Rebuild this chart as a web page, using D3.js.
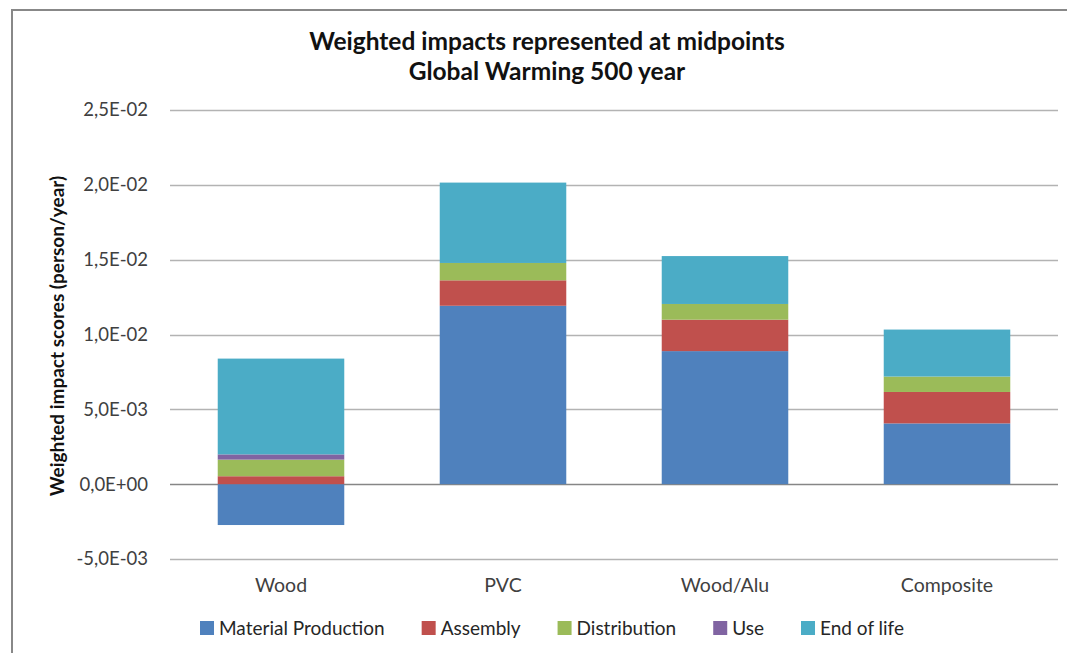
<!DOCTYPE html>
<html lang="en">
<head>
    <meta charset="UTF-8">
    <title>Weighted impacts - Global Warming 500 year</title>
    <script src="https://cdn.jsdelivr.net/npm/d3@7"></script>
    <style>
        body { margin: 0; background: #fff; }
        svg { font-family: Lato, "Open Sans", sans-serif; }
        .tick text { fill: #404040; }
    </style>
</head>
<body>
    <svg width="1067" height="653"></svg>

    <script>
        // Data
        var categories = ["Wood", "PVC", "Wood/Alu", "Composite"];
        var stages = ["Material Production", "Assembly", "Distribution", "Use", "End of life"];
        var materialProduction = [-0.00273, 0.01192, 0.00889, 0.00406];
        var assembly = [0.00053, 0.0017, 0.0021, 0.0021];
        var distribution = [0.00111, 0.00116, 0.00105, 0.00103];
        var use = [0.00035, 0, 0, 0];
        var endOfLife = [0.0064, 0.00537, 0.0032, 0.00314];
        var yTicks = [-0.005, 0, 0.005, 0.01, 0.015, 0.02, 0.025];
        var colors = ["#4F81BD", "#C0504D", "#9BBB59", "#8064A2", "#4BACC6"];

        var series = [materialProduction, assembly, distribution, use, endOfLife];

        var svg = d3.select("svg");
        var margin = { left: 170, right: 1058, top: 110, bottom: 559 };

        // chart frame (left and top edges visible in the reference)
        svg.append("path")
            .attr("d", "M12,660 L12,10 L1090,10")
            .attr("fill", "none")
            .attr("stroke", "#888")
            .attr("stroke-width", 2);

        var x = d3.scaleBand()
            .domain(categories)
            .range([margin.left, margin.right])
            .paddingInner(0.43)
            .paddingOuter(0.215);

        var y = d3.scaleLinear()
            .domain([-0.005, 0.025])
            .range([margin.bottom, margin.top]);

        // gridlines
        svg.append("g")
            .selectAll("line")
            .data(yTicks)
            .enter().append("line")
            .attr("x1", margin.left)
            .attr("x2", margin.right)
            .attr("y1", function(d) { return Math.round(y(d)) + 0.5; })
            .attr("y2", function(d) { return Math.round(y(d)) + 0.5; })
            .attr("stroke", function(d) { return d === 0 ? "#868686" : "#b3b3b3"; })
            .attr("stroke-width", 1.3);

        // y axis labels, e.g. 2,5E-02
        var fmt = function(d) {
            return d3.format(".1e")(d)
                .replace("\u2212", "-")
                .replace(".", ",")
                .replace(/e([+-])(\d)$/, "E$10$2");
        };
        var yAxis = svg.append("g")
            .attr("transform", "translate(" + margin.left + ",0)")
            .call(d3.axisLeft(y).tickValues(yTicks).tickFormat(fmt).tickSize(0).tickPadding(22));
        yAxis.select(".domain").remove();
        yAxis.selectAll("text").attr("font-size", 18.5).attr("font-family", "Lato, sans-serif");

        // stacked bars, positives stack up from zero, negatives down
        var stacked = [];
        categories.forEach(function(cat, i) {
            var pos = 0, neg = 0;
            series.forEach(function(s, k) {
                var v = s[i];
                var y0, y1;
                if (v >= 0) { y0 = pos; pos += v; y1 = pos; }
                else { y0 = neg; neg += v; y1 = neg; }
                stacked.push({ cat: cat, k: k, y0: y0, y1: y1 });
            });
        });

        svg.append("g")
            .selectAll("rect")
            .data(stacked.filter(function(d) { return d.y0 !== d.y1; }))
            .enter().append("rect")
            .attr("x", function(d) { return x(d.cat); })
            .attr("width", x.bandwidth())
            .attr("y", function(d) { return y(Math.max(d.y0, d.y1)); })
            .attr("height", function(d) { return Math.abs(y(d.y0) - y(d.y1)); })
            .attr("fill", function(d) { return colors[d.k]; });

        // category labels
        svg.append("g")
            .selectAll("text")
            .data(categories)
            .enter().append("text")
            .attr("x", function(d) { return x(d) + x.bandwidth() / 2; })
            .attr("y", 592)
            .attr("text-anchor", "middle")
            .attr("font-size", 19.5)
            .attr("fill", "#404040")
            .text(function(d) { return d; });

        // title
        var title = svg.append("text")
            .attr("text-anchor", "middle")
            .attr("font-weight", "bold")
            .attr("font-size", 24.5)
            .attr("fill", "#111");
        title.append("tspan").attr("x", 547).attr("y", 50).text("Weighted impacts represented at midpoints");
        title.append("tspan").attr("x", 547).attr("y", 80).text("Global Warming 500 year");

        // y axis title
        svg.append("text")
            .attr("transform", "translate(64,336) rotate(-90)")
            .attr("text-anchor", "middle")
            .attr("font-weight", "bold")
            .attr("font-size", 19)
            .attr("fill", "#111")
            .text("Weighted impact scores (person/year)");

        // legend
        var legend = svg.append("g");
        var lx = 0;
        var gap = 37;
        stages.forEach(function(name, k) {
            var item = legend.append("g").attr("transform", "translate(" + lx + ",0)");
            item.append("rect")
                .attr("x", 0).attr("y", -7)
                .attr("width", 14).attr("height", 14)
                .attr("fill", colors[k]);
            var t = item.append("text")
                .attr("x", 19).attr("y", 7)
                .attr("font-size", 19)
                .attr("fill", "#262626")
                .text(name);
            lx += 19 + t.node().getComputedTextLength() + gap;
        });
        var legendWidth = lx - gap;
        legend.attr("transform", "translate(" + (552 - legendWidth / 2) + ",628)");
    </script>
</body>
</html>
